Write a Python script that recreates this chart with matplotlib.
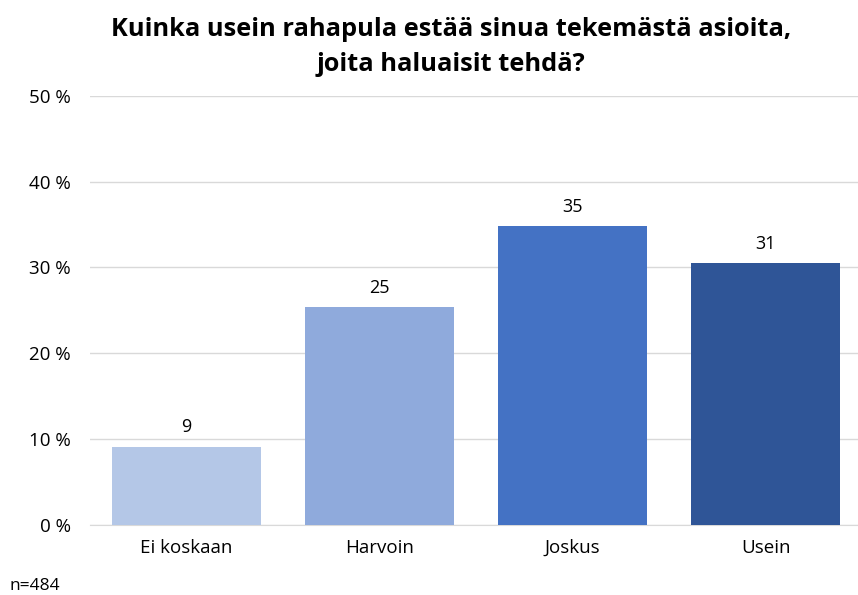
import matplotlib.pyplot as plt

categories = ["Ei koskaan", "Harvoin", "Joskus", "Usein"]
values = [9.1, 25.4, 34.8, 30.5]
labels = ["9", "25", "35", "31"]
colors = ["#B4C7E7", "#8FAADC", "#4472C4", "#2F5597"]
yticks = [0, 10, 20, 30, 40, 50]

plt.rcParams["font.family"] = ["Open Sans", "DejaVu Sans"]

fig = plt.figure(figsize=(8.58, 5.95), dpi=100)
ax = fig.add_axes([0.105, 0.118, 0.9, 0.721])

x = range(len(categories))
bars = ax.bar(x, values, width=0.77, color=colors, zorder=3)
for b, lab in zip(bars, labels):
    ax.text(b.get_x() + b.get_width() / 2, b.get_height() + 1.2, lab,
            ha="center", va="bottom", fontsize=13, color="#000000")

ax.set_xlim(-0.5, 3.5)
ax.set_ylim(0, 50)
ax.set_yticks(yticks)
ax.set_yticklabels([f"{t} %" for t in yticks], fontsize=13.5)
ax.set_xticks(list(x))
ax.set_xticklabels(categories, fontsize=13.5)
ax.grid(axis="y", color="#D9D9D9", linewidth=1, zorder=0)
ax.tick_params(axis="y", length=0, pad=14)
ax.tick_params(axis="x", length=0, pad=10)
for s in ["top", "right", "left"]:
    ax.spines[s].set_visible(False)
ax.spines["bottom"].set_color("#D9D9D9")

fig.suptitle("Kuinka usein rahapula estää sinua tekemästä asioita,\njoita haluaisit tehdä?",
             x=0.526, y=0.972, fontsize=18.3, fontweight="bold", linespacing=1.55)
fig.text(0.011, 0.008, "n=484", fontsize=12.5)

fig.savefig("out.png", dpi=100)
